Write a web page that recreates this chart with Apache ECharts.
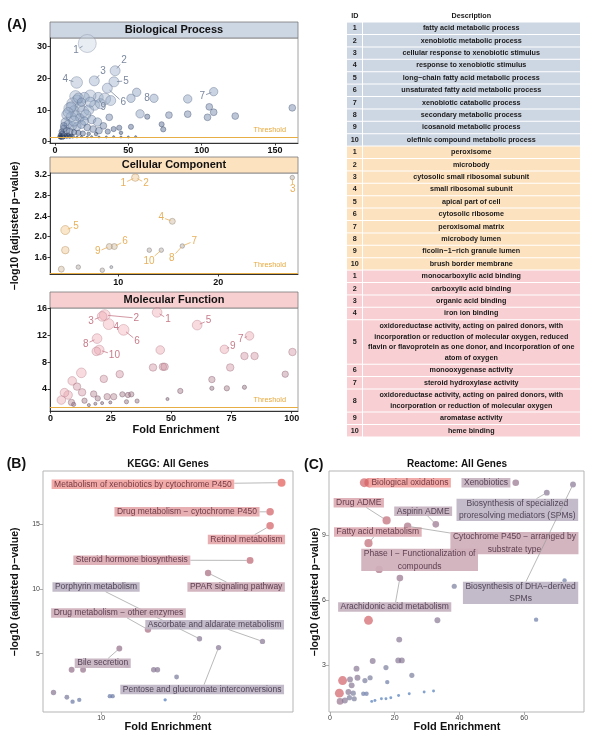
<!DOCTYPE html>
<html><head><meta charset="utf-8">
<script src="https://cdn.jsdelivr.net/npm/echarts@6/dist/echarts.min.js"></script>
<style>html,body{margin:0;padding:0;background:#fff}#c{width:601px;height:742px}</style>
</head><body><div id="c"></div><script>
// ---------------- DATA ----------------
const threshold = 1.3;
// Panel A: [foldEnrichment, -log10 p, geneCount(notional)]
const bpPoints = [
 [22,31,11],[41,22.4,6],[26.8,19.2,6],[14.8,18.7,7],[40.2,18.9,6],[35.7,16.9,6],[108.2,15.8,5],[67.5,13.7,5],[29.5,14,6],
 [55.7,15.6,5],[51.8,13.7,5],[90.5,13.5,5],[105.2,11,4],[108.2,9.3,4],[104,7.7,4],[90.5,8.7,4],[77.7,8.4,4],[62.9,7.9,3],[58,8.8,5],[122.9,8.1,4],[161.8,10.7,4],[72.7,5.5,3],[73.8,3.9,3],[51.8,4.7,3],[43.8,4.4,3],[37,7.7,4],
 [34,13.5,7],[38,13,6],[24,14.5,7],[20,14,6],[14,14.3,7],[15,13.2,6],[12,12,7],[17,11,6],[10,10.5,7],[13,9.8,6],[19,9.5,7],[23,10,6],[27,11.5,6],[31,12,6],[8,8.5,6],[11,7.8,6],[14,8.2,6],[17,7.5,5],[21,8.5,6],[25,7,5],[29,6.2,5],[33,5,4],[7,6.2,5],[9,5.5,5],[12,5,5],[15,4.8,5],[18,5.5,5],[22,4.5,4],[26,4,4],[30,3.5,4],[36,3.2,3],[40,4,3],[45,2.8,2],[6,4.2,4],[8,3.5,4],[10,3.2,4],[13,3,3],[16,2.8,3],[19,2.6,3],[23,2.5,2],[28,2.4,2],[5,2.6,3],[6,2.1,3],[7.5,1.9,2],[9,2.2,2],[11,1.9,2],[4,1.7,2],[5,1.5,3],[3.5,1.4,2],
 [16,13.8,6],[11,11,6],[9,9.2,6],[13,6.5,6],[20,6.5,5],[24,12.5,6],[18,12.5,5],[6,5,4],[4.5,3.2,3],[3.5,2.2,2],[4,1.3,2],[6,1.5,2],[8,1.6,2],[10,1.6,2],[12,1.7,2],[3,1.6,2],
 [15,1.5,1],[18,1.6,1],[22,1.5,1],[25,1.6,1],[30,1.5,1],[35,1.5,1],[40,1.6,1],[45,1.5,1],[50,1.5,1],[55,1.6,1]
];
// [id, pointIndex, labelX, labelY]
const bpLabels = [[1,0,14.3,28.95],[2,1,47.0,25.8],[3,2,32.7,22.4],[4,3,7.0,19.7],[5,4,48.4,19.2],[6,5,46.6,12.3],[7,6,100.4,14.4],[8,7,62.7,13.7],[9,8,32.9,10.9]];

const ccPoints = [
 [11.7,3.15,4],[27.4,3.15,2],[15.4,2.3,3],[4.7,2.13,5],[9.6,1.81,3],[16.4,1.82,2],[9.1,1.81,3],[14.3,1.74,2],[13.1,1.74,2],
 [4.7,1.74,4],[4.3,1.37,3],[6.0,1.41,2],[8.4,1.35,2],[9.3,1.41,1]
];
const ccLabels = [[1,0,10.5,3.04],[2,0,12.77,3.04],[3,1,27.44,2.92],[4,2,14.3,2.38],[5,3,5.77,2.21],[6,4,10.67,1.92],[7,5,17.6,1.92],[8,5,15.34,1.59],[9,6,7.94,1.71],[10,7,13.07,1.53]];

const mfPoints = [
 [44.2,15.4,8],[22.5,15.0,9],[21.4,14.8,8],[24.1,13.65,9],[60.8,13.5,8],[30.3,12.8,9],[82.5,11.9,7],[19.3,11.5,8],[72.1,9.9,7],[20.2,9.8,8],
 [19.0,9.6,7],[45.5,9.8,7],[80.4,8.9,6],[84.6,8.9,6],[100.3,9.5,6],[42.5,7.2,6],[46.6,7.3,6],[47.3,7.3,6],[74.5,7.2,6],[12.8,6.4,8],[28.7,6.2,6],[22.1,5.5,6],[97.3,6.2,5],[66.9,5.4,5],[53.8,3.7,4],[66.9,4.1,3],[73.1,4.1,4],[80.4,4.25,3],[9,5.2,7],[11,4.35,6],[13.1,3.5,6],[17.9,3.25,5],[7.3,3.1,7],[5.8,3.45,7],[4.5,2.35,7],[8.7,2.0,5],[14.1,2.25,4],[23.5,2.85,5],[26.2,2.85,5],[29.8,3.2,4],[32.1,3.1,4],[33.5,3.2,4],[19.6,2.6,4],[31.5,2.1,3],[35.9,2.2,3],[48.5,2.5,2],[9.6,1.7,3],[15.9,1.6,2],[18.6,1.8,2],[21.4,1.9,2],[24.8,2.0,2]
];
const mfLabels = [[1,0,48.7,14.4],[2,1,35.6,14.55],[3,2,16.8,14.15],[4,3,27.3,13.15],[5,4,65.5,14.2],[6,5,35.9,11.16],[7,6,78.9,11.46],[8,7,14.6,10.7],[9,8,75.6,10.4],[10,9,26.5,9.07]];

const bpTerms = ["fatty acid metabolic process","xenobiotic metabolic process","cellular response to xenobiotic stimulus","response to xenobiotic stimulus","long\u2212chain fatty acid metabolic process","unsaturated fatty acid metabolic process","xenobiotic catabolic process","secondary metabolic process","icosanoid metabolic process","olefinic compound metabolic process"];
const ccTerms = ["peroxisome","microbody","cytosolic small ribosomal subunit","small ribosomal subunit","apical part of cell","cytosolic ribosome","peroxisomal matrix","microbody lumen","ficolin\u22121\u2212rich granule lumen","brush border membrane"];
const mfTerms = ["monocarboxylic acid binding","carboxylic acid binding","organic acid binding","iron ion binding",
 "oxidoreductase activity, acting on paired donors, with\nincorporation or reduction of molecular oxygen, reduced\nflavin or flavoprotein as one donor, and incorporation of one\natom of oxygen",
 "monooxygenase activity","steroid hydroxylase activity",
 "oxidoreductase activity, acting on paired donors, with\nincorporation or reduction of molecular oxygen",
 "aromatase activity","heme binding"];

// Panel B / C: [foldEnrichment, -log10 p, geneCount(notional)]
const keggPoints = [
 [28.9,18.2,10],[27.7,15.95,9],[27.7,14.87,9],[25.6,12.2,8],[21.2,11.23,7],[20.3,6.15,5],[14.9,6.86,7],[26.9,5.95,5],[11.9,5.4,6],[22.3,5.47,5],
 [12.7,4.1,5],[6.9,3.76,6],[8.1,3.76,6],[15.5,3.76,5],[15.9,3.76,5],[17.9,3.2,4],[5.0,2.0,5],[6.4,1.64,4],[7.0,1.3,3],[7.7,1.44,3],[10.9,1.72,3],[11.2,1.72,3],[16.7,1.44,1]
];
const keggLabels = [
 ["Metabolism of xenobiotics by cytochrome P450",0,14.37,18.07],
 ["Drug metabolism \u2212 cytochrome P450",1,18.99,15.95],
 ["Retinol metabolism",2,25.22,13.82],
 ["Steroid hormone biosynthesis",3,13.21,12.22],
 ["PPAR signaling pathway",4,24.14,10.15],
 ["Porphyrin metabolism",5,9.46,10.15],
 ["Drug metabolism \u2212 other enzymes",6,11.81,8.14],
 ["Ascorbate and aldarate metabolism",7,21.89,7.24],
 ["Bile secretion",8,10.16,4.27],
 ["Pentose and glucuronate interconversions",9,20.58,2.24]
];
const reactPoints = [
 [12.1,11.43,10],[57.4,11.43,6],[67,10.97,5],[17.5,9.69,8],[32.7,9.51,6],[11.9,8.64,8],[24,9.42,7],[15.2,7.43,7],[21.6,7.03,6],[75.1,11.35,5],
 [10.6,11.43,9],[38.4,6.65,4],[72.5,6.92,3],[11.9,5.08,9],[33.2,5.08,5],[63.7,5.11,3],[21.4,4.19,5],[13.2,3.2,5],[21.1,3.23,5],[22.2,3.23,5],[17.3,2.9,4],[8.2,2.85,5],[25.3,2.54,4],
 [3.9,2.3,9],[6.2,2.35,5],[8.5,2.43,5],[10.8,2.3,4],[12.4,2.43,4],[17.7,2.23,3],[6.7,2.08,5],[2.9,1.72,9],[5.7,1.77,5],[7.2,1.72,4],[10.3,1.69,3],[11.3,1.69,3],[3.1,1.34,6],[4.6,1.38,5],[6.0,1.51,4],[7.5,1.46,4],
 [12.9,1.34,1],[13.9,1.38,1],[15.9,1.46,1],[17.3,1.46,1],[18.8,1.51,1],[21.2,1.61,1],[24.5,1.69,1],[29.1,1.77,1],[32,1.82,1]
];
const reactLabels = [
 ["Biological oxidations",0,24.7,11.43],
 ["Xenobiotics",1,48.2,11.43],
 ["Biosynthesis of specialized\nproresolving mediators (SPMs)",2,57.9,10.18],
 ["Drug ADME",3,8.9,10.51],
 ["Aspirin ADME",4,28.8,10.11],
 ["Fatty acid metabolism",5,14.8,9.15],
 ["Cytochrome P450 \u2212 arranged by\nsubstrate type",6,57.0,8.64],
 ["Phase I \u2212 Functionalization of\ncompounds",7,27.7,7.87],
 ["Arachidonic acid metabolism",8,20.0,5.69],
 ["Biosynthesis of DHA\u2212derived\nSPMs",9,58.9,6.35]
];

// tick values & ranges
const bpX = [0,50,100,150], bpY = [0,10,20,30];
const ccX = [10,20], ccY = [1.6,2.0,2.4,2.8,3.2];
const mfX = [0,25,50,75,100], mfY = [4,8,12,16];
const keggX = [10,20], keggY = [5,10,15];
const reactX = [0,20,40,60], reactY = [3,6,9];

// ---------------- STYLE / LAYOUT ----------------
const FONT = '"Liberation Sans", Arial, sans-serif';
const mctx = document.createElement('canvas').getContext('2d');
function tw(s, font){ mctx.font = font; return mctx.measureText(s).width; }
function hex(h){ return [parseInt(h.slice(1,3),16),parseInt(h.slice(3,5),16),parseInt(h.slice(5,7),16)]; }
function ramp(stops, t){
  t = Math.max(0, Math.min(1, t));
  for (let i=1;i<stops.length;i++){
    if (t <= stops[i][0]) {
      const a = stops[i-1], b = stops[i], f = (t-a[0])/(b[0]-a[0]);
      const ca = hex(a[1]), cb = hex(b[1]);
      return ca.map((v,k)=>v+(cb[k]-v)*f);
    }
  }
  return hex(stops[stops.length-1][1]);
}
function mix(c, w, f){ return c.map((v,i)=>v+(w[i]-v)*f); }
function rgba(c,a){ return 'rgba('+c.map(v=>Math.round(v)).join(',')+','+a+')'; }

const ST = {
  bp:   {n0:1, n1:11, s0:2, sk:1.6, stops:[[0,'#1b2c4e'],[0.2,'#4a6088'],[0.45,'#94a8c6'],[1,'#cbd5e4']], fa:0.55, sa:0.75, sd:0.35, lab:'#7b889e'},
  cc:   {n0:1, n1:5, s0:3, sk:1.5, stops:[[0,'#7e7f8a'],[0.35,'#a69a8c'],[0.7,'#e6b676'],[1,'#f0bb6c']], fa:0.45, sa:0.85, sd:0.2, lab:'#e8b15c'},
  mf:   {n0:1, n1:9, s0:2, sk:1.1, stops:[[0,'#58404f'],[0.4,'#9a6c7c'],[0.75,'#e7a0aa'],[1,'#f2aab2']], fa:0.5, sa:0.8, sd:0.2, lab:'#c67d8b'},
  kegg: {n0:1, n1:10, s0:3.3, sk:0.52, stops:[[0,'#4f7ab8'],[0.35,'#7d7d9c'],[0.6,'#9a7088'],[0.8,'#c46672'],[1,'#e35b58']], fa:0.9, sa:0},
  react:{n0:1, n1:10, s0:2.9, sk:0.75, stops:[[0,'#4f7ab8'],[0.35,'#7d7d9c'],[0.6,'#9a7088'],[0.8,'#c46672'],[1,'#e35b58']], fa:0.88, sa:0}
};
function colOf(st, n){ return ramp(st.stops, (n-st.n0)/(st.n1-st.n0)); }
function sizeOf(st, n){ return st.s0 + st.sk*(n-st.n0); }

const G = {
  bp:   {left:50, top:38, width:248, height:105},
  cc:   {left:50, top:173, width:248, height:101},
  mf:   {left:50, top:308, width:248, height:103},
  kegg: {left:43, top:471, width:250, height:241},
  react:{left:329, top:471, width:255, height:241}
};
const R = {
  bp:   {x:[-3.4,165.7], y:[-0.41,32.74]},
  cc:   {x:[3.17,27.97], y:[1.276,3.239]},
  mf:   {x:[-0.2,102.6], y:[0.72,16.05]},
  kegg: {x:[3.9,30.1], y:[0.5,19.1]},
  react:{x:[-0.3,78.5], y:[0.85,11.97]}
};

function gridA(g){ return Object.assign({show:true, borderColor:'#8a8a8a', borderWidth:0.8, backgroundColor:'transparent', containLabel:false}, g); }
function gridB(g){ return Object.assign({show:true, borderColor:'#b5b5b5', borderWidth:1, backgroundColor:'transparent', containLabel:false}, g); }

function axA(gi, range, ticks, margin, fmt){
  return {type:'value', gridIndex:gi, min:range[0], max:range[1],
    axisLine:{show:true, onZero:false, lineStyle:{color:'#222', width:0.9}},
    axisTick:{show:true, length:2.5, lineStyle:{color:'#222', width:0.9}, customValues:ticks},
    axisLabel:{customValues:ticks, color:'#111', fontWeight:'bold', fontSize:9, fontFamily:FONT, margin:margin, formatter: fmt || (v=>String(v))},
    splitLine:{show:false}};
}
function axB(gi, range, ticks){
  return {type:'value', gridIndex:gi, min:range[0], max:range[1],
    axisLine:{show:false, onZero:false},
    axisTick:{show:true, length:3, lineStyle:{color:'#9a9a9a', width:0.8}, customValues:ticks},
    axisLabel:{customValues:ticks, color:'#444', fontSize:7, fontFamily:FONT, margin:3, formatter:v=>String(v)},
    splitLine:{show:false}};
}

function scatterSeries(gi, pts, st, extra){
  return Object.assign({type:'scatter', xAxisIndex:gi, yAxisIndex:gi, silent:true, z:2,
    data: pts.map(d=>{
      const c = colOf(st, d[2]);
      const it = {color: rgba(c, st.fa)};
      if (st.sa) { it.borderColor = rgba(mix(c,[10,20,45],st.sd), st.sa); it.borderWidth = 0.7; } else { it.borderWidth = 0; }
      return {value:d, itemStyle:it};
    }),
    symbolSize: v => sizeOf(st, v[2])}, extra||{});
}
function thrLine(){
  return {silent:true, symbol:['none','none'], data:[{yAxis:threshold}],
    lineStyle:{color:'#e6ae44', width:1, type:'solid'},
    label:{show:true, formatter:'Threshold', position:'insideEndTop', color:'#e6a83a', fontSize:7.3, fontFamily:FONT, distance:[12,4]},
    emphasis:{disabled:true}};
}
function idLabelSeries(gi, pts, labels, st){
  const font = '10px ' + FONT;
  return {type:'custom', xAxisIndex:gi, yAxisIndex:gi, clip:false, silent:true, z:5,
    data: labels.map(l=>[pts[l[1]][0], pts[l[1]][1], l[2], l[3]]),
    renderItem(params, api){
      const L = labels[params.dataIndex];
      const p = api.coord([api.value(0), api.value(1)]);
      const c = api.coord([api.value(2), api.value(3)]);
      const txt = String(L[0]);
      const hw = tw(txt, font)/2 + 1, hh = 5;
      const r = sizeOf(st, pts[L[1]][2])/2;
      const dx = p[0]-c[0], dy = p[1]-c[1], dist = Math.hypot(dx,dy);
      const ch = [];
      if (dist > 9) {
        const t = Math.min(hw/Math.max(Math.abs(dx),1e-6), hh/Math.max(Math.abs(dy),1e-6));
        const sx = c[0]+dx*t, sy = c[1]+dy*t;
        const ex = p[0]-dx/dist*r*0.6, ey = p[1]-dy/dist*r*0.6;
        if (Math.hypot(ex-sx, ey-sy) > 2) ch.push({type:'line', shape:{x1:sx,y1:sy,x2:ex,y2:ey}, style:{stroke:st.lab, lineWidth:0.8}});
      }
      ch.push({type:'text', x:c[0], y:c[1], style:{text:txt, fill:st.lab, font:font, align:'center', verticalAlign:'middle'}});
      return {type:'group', children:ch};
    }};
}
function boxLabelSeries(gi, pts, labels, st){
  const font = '8.5px ' + FONT;
  return {type:'custom', xAxisIndex:gi, yAxisIndex:gi, clip:false, silent:true, z:5,
    data: labels.map(l=>[pts[l[1]][0], pts[l[1]][1], l[2], l[3]]),
    renderItem(params, api){
      const L = labels[params.dataIndex];
      const pc = colOf(st, pts[L[1]][2]);
      const p = api.coord([api.value(0), api.value(1)]);
      const c = api.coord([api.value(2), api.value(3)]);
      const lines = L[0].split('\n');
      const w = Math.max.apply(null, lines.map(s=>tw(s,font))) + 5;
      const lh = 12.7;
      const h = 9.5 + (lines.length-1)*lh;
      const r = sizeOf(st, pts[L[1]][2])/2;
      const dx = p[0]-c[0], dy = p[1]-c[1];
      const ch = [];
      if (Math.abs(dx) > w/2 || Math.abs(dy) > h/2) {
        const t = Math.min((w/2)/Math.max(Math.abs(dx),1e-6), (h/2)/Math.max(Math.abs(dy),1e-6));
        const sx = c[0]+dx*t, sy = c[1]+dy*t;
        const d2 = Math.hypot(p[0]-sx, p[1]-sy);
        if (d2 > r + 2) {
          const ex = p[0]-(p[0]-sx)/d2*r, ey = p[1]-(p[1]-sy)/d2*r;
          ch.push({type:'line', shape:{x1:sx,y1:sy,x2:ex,y2:ey}, style:{stroke:'#9b9b9b', lineWidth:0.7}});
        }
      }
      ch.push({type:'rect', shape:{x:c[0]-w/2, y:c[1]-h/2, width:w, height:h}, style:{fill: rgba(mix(pc,[255,255,255],0.45),0.92), stroke:null}});
      ch.push({type:'text', x:c[0], y:c[1], style:{text:L[0], fill: rgba(mix(pc,[45,35,50],0.6),1), font:font, align:'center', verticalAlign:'middle', lineHeight:lh}});
      return {type:'group', children:ch};
    }};
}

// ---------------- GRAPHIC (strips, table, titles) ----------------
const gfx = [];
function txt(x, y, s, font, fill, extra){ gfx.push(Object.assign({type:'text', x:x, y:y, silent:true, style:{text:s, font:font, fill:fill||'#111', align:'center', verticalAlign:'middle'}}, extra||{})); }
function strip(g, label, fill){
  gfx.push({type:'rect', silent:true, shape:{x:g.left, y:g.top-16, width:g.width, height:16}, style:{fill:fill, stroke:'#7a7a7a', lineWidth:0.8}});
  txt(g.left+g.width/2, g.top-8, label, 'bold 11px '+FONT, '#111');
}
strip(G.bp, 'Biological Process', '#cdd6e3');
strip(G.cc, 'Cellular Component', '#fde2bf');
strip(G.mf, 'Molecular Function', '#f8cfd1');

txt(7.3, 25, '(A)', 'bold 14px '+FONT, '#111', {style:{text:'(A)', font:'bold 14px '+FONT, fill:'#111', align:'left', verticalAlign:'middle'}});
txt(6.7, 464, '(B)', 'bold 14px '+FONT, '#111', {style:{text:'(B)', font:'bold 14px '+FONT, fill:'#111', align:'left', verticalAlign:'middle'}});
txt(304, 465, '(C)', 'bold 14px '+FONT, '#111', {style:{text:'(C)', font:'bold 14px '+FONT, fill:'#111', align:'left', verticalAlign:'middle'}});

const YT = '\u2212log10 (adjusted p\u2212value)';
txt(15, 226, YT, 'bold 10.5px '+FONT, '#111', {rotation:Math.PI/2});
txt(176, 430, 'Fold Enrichment', 'bold 11px '+FONT, '#111');
txt(168, 464, 'KEGG: All Genes', 'bold 10px '+FONT, '#111');
txt(15, 592, YT, 'bold 10.5px '+FONT, '#111', {rotation:Math.PI/2});
txt(168, 727, 'Fold Enrichment', 'bold 11px '+FONT, '#111');
txt(457, 464, 'Reactome: All Genes', 'bold 10px '+FONT, '#111');
txt(315, 592, YT, 'bold 10.5px '+FONT, '#111', {rotation:Math.PI/2});
txt(457, 727, 'Fold Enrichment', 'bold 11px '+FONT, '#111');

// table
(function(){
  const TF = 'bold 7.2px ' + FONT;
  const idX0 = 347, idX1 = 362.5, dX1 = 580;
  txt((idX0+idX1)/2, 16, 'ID', TF, '#1a1a1a');
  txt((idX1+dX1)/2, 16, 'Description', TF, '#1a1a1a');
  const groups = [[bpTerms,'#cdd6e3'],[ccTerms,'#fde2bf'],[mfTerms,'#f8d0d3']];
  let y = 22.1;
  const H = 12.4, LH = 10.7;
  groups.forEach(([terms, fill])=>{
    terms.forEach((t,i)=>{
      const nl = t.split('\n').length;
      const h = H + (nl-1)*LH;
      gfx.push({type:'rect', silent:true, shape:{x:idX0, y:y+0.5, width:idX1-idX0-0.5, height:h-1}, style:{fill:fill}});
      gfx.push({type:'rect', silent:true, shape:{x:idX1+0.5, y:y+0.5, width:dX1-idX1-0.5, height:h-1}, style:{fill:fill}});
      txt((idX0+idX1)/2, y+h/2, String(i+1), TF, '#1a1a1a');
      gfx.push({type:'text', silent:true, x:(idX1+dX1)/2, y:y+h/2, style:{text:t, font:TF, fill:'#1a1a1a', align:'center', verticalAlign:'middle', lineHeight:LH}});
      y += h;
    });
  });
})();

// ---------------- CHART ----------------
const chart = echarts.init(document.getElementById('c'), null, {renderer:'canvas', width:601, height:742});
chart.setOption({
  animation:false,
  backgroundColor:'#ffffff',
  grid:[gridA(G.bp), gridA(G.cc), gridA(G.mf), gridB(G.kegg), gridB(G.react)],
  xAxis:[
    axA(0, R.bp.x, bpX, 3), axA(1, R.cc.x, ccX, 4), axA(2, R.mf.x, mfX, 3),
    axB(3, R.kegg.x, keggX), axB(4, R.react.x, reactX)
  ],
  yAxis:[
    axA(0, R.bp.y, bpY, 3), axA(1, R.cc.y, ccY, 3, v=>v.toFixed(1)), axA(2, R.mf.y, mfY, 3),
    axB(3, R.kegg.y, keggY), axB(4, R.react.y, reactY)
  ],
  series:[
    scatterSeries(0, bpPoints, ST.bp, {markLine:thrLine()}),
    scatterSeries(1, ccPoints, ST.cc, {markLine:thrLine()}),
    scatterSeries(2, mfPoints, ST.mf, {markLine:thrLine()}),
    idLabelSeries(0, bpPoints, bpLabels, ST.bp),
    idLabelSeries(1, ccPoints, ccLabels, ST.cc),
    idLabelSeries(2, mfPoints, mfLabels, ST.mf),
    scatterSeries(3, keggPoints, ST.kegg),
    scatterSeries(4, reactPoints, ST.react),
    boxLabelSeries(3, keggPoints, keggLabels, ST.kegg),
    boxLabelSeries(4, reactPoints, reactLabels, ST.react)
  ],
  graphic:{elements:gfx}
});
</script></body></html>
